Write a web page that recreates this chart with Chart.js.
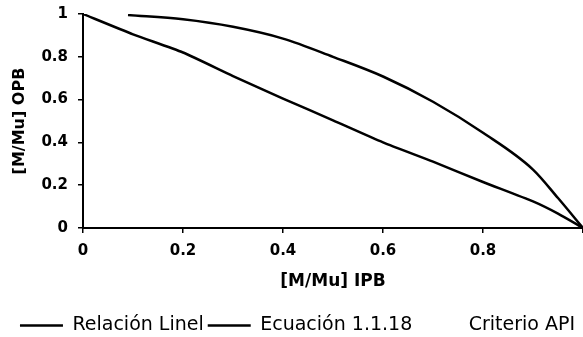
<!DOCTYPE html>
<html><head><meta charset="utf-8">
<script src="https://cdn.jsdelivr.net/npm/chart.js@4/dist/chart.umd.min.js"></script>
<style>html,body{margin:0;padding:0;background:#fff;overflow:hidden}</style>
</head><body>
<canvas id="c" width="583" height="337"></canvas>
<script>
// Series names (legend)
const seriesNames = ['Relación Linel', 'Ecuación 1.1.18', 'Criterio API'];
// Relación Lineal (lower line)
const linealX = [0, 0.1, 0.2, 0.3, 0.4, 0.5, 0.6, 0.7, 0.8, 0.9, 0.95, 1.0];
const linealY = [1.0, 0.905, 0.82, 0.71, 0.605, 0.503, 0.40, 0.31, 0.215, 0.124, 0.067, 0.0];
// Ecuación 1.1.18 (upper curve)
const ecuacionX = [0.09, 0.2, 0.3, 0.4, 0.5, 0.6, 0.7, 0.8, 0.9, 0.95, 1.0];
const ecuacionY = [0.995, 0.975, 0.94, 0.885, 0.80, 0.708, 0.59, 0.445, 0.273, 0.14, 0.0];
// Criterio API (no visible marks)
const criterioX = [];
const criterioY = [];
// Axis tick labels
const tickStep = 0.2;

const pts = (xs, ys) => xs.map((x, i) => ({x: x, y: ys[i]}));
const fmt = v => String(Math.round(v * 10) / 10);
const tickFont = {family: 'DejaVu Sans', weight: 'bold', size: 15};

new Chart(document.getElementById('c'), {
  type: 'line',
  data: {
    datasets: [
      {label: seriesNames[0], data: pts(linealX, linealY), borderColor: '#000', backgroundColor: '#000', borderWidth: 2.5, pointRadius: 0, tension: 0.2},
      {label: seriesNames[1], data: pts(ecuacionX, ecuacionY), borderColor: '#000', backgroundColor: '#000', borderWidth: 2.5, pointRadius: 0, cubicInterpolationMode: 'monotone'},
      {label: seriesNames[2], data: pts(criterioX, criterioY), borderColor: '#fff', backgroundColor: '#fff', borderWidth: 2.5, pointRadius: 0}
    ]
  },
  options: {
    responsive: false,
    animation: false,
    layout: {padding: {left: 12, right: 0, top: 14, bottom: -8}},
    plugins: {
      tooltip: {enabled: false},
      legend: {
        position: 'bottom',
        labels: {
          font: {family: 'DejaVu Sans', size: 19},
          color: '#000',
          usePointStyle: true,
          pointStyle: 'line',
          pointStyleWidth: 43,
          padding: 4
        }
      }
    },
    scales: {
      x: {
        type: 'linear', min: 0, max: 1,
        ticks: {stepSize: tickStep, font: tickFont, color: '#000', padding: 9, maxRotation: 0,
          callback: v => v >= 1 ? '' : fmt(v)},
        grid: {display: true, drawOnChartArea: false, drawTicks: true, tickLength: 5, color: '#000', lineWidth: 1.5},
        border: {display: true, color: '#000', width: 2},
        title: {display: true, text: '[M/Mu] IPB', color: '#000',
          font: {family: 'DejaVu Sans', weight: 'bold', size: 17}, padding: {top: 0, bottom: 20}},
        afterFit: s => { s.height = 84; s.paddingRight = 0; }
      },
      y: {
        min: 0, max: 1,
        ticks: {stepSize: tickStep, font: tickFont, color: '#000', padding: 10, callback: v => fmt(v)},
        grid: {display: true, drawOnChartArea: false, drawTicks: true, tickLength: 5, color: '#000', lineWidth: 1.5},
        border: {display: true, color: '#000', width: 2},
        title: {display: true, text: '[M/Mu] OPB', color: '#000',
          font: {family: 'DejaVu Sans', weight: 'bold', size: 16, lineHeight: 1}, padding: {top: 0, bottom: 0}},
        afterFit: s => { s.width = 71; s.paddingTop = 0; s.paddingBottom = 0; }
      }
    }
  }
});
</script>
</body></html>
